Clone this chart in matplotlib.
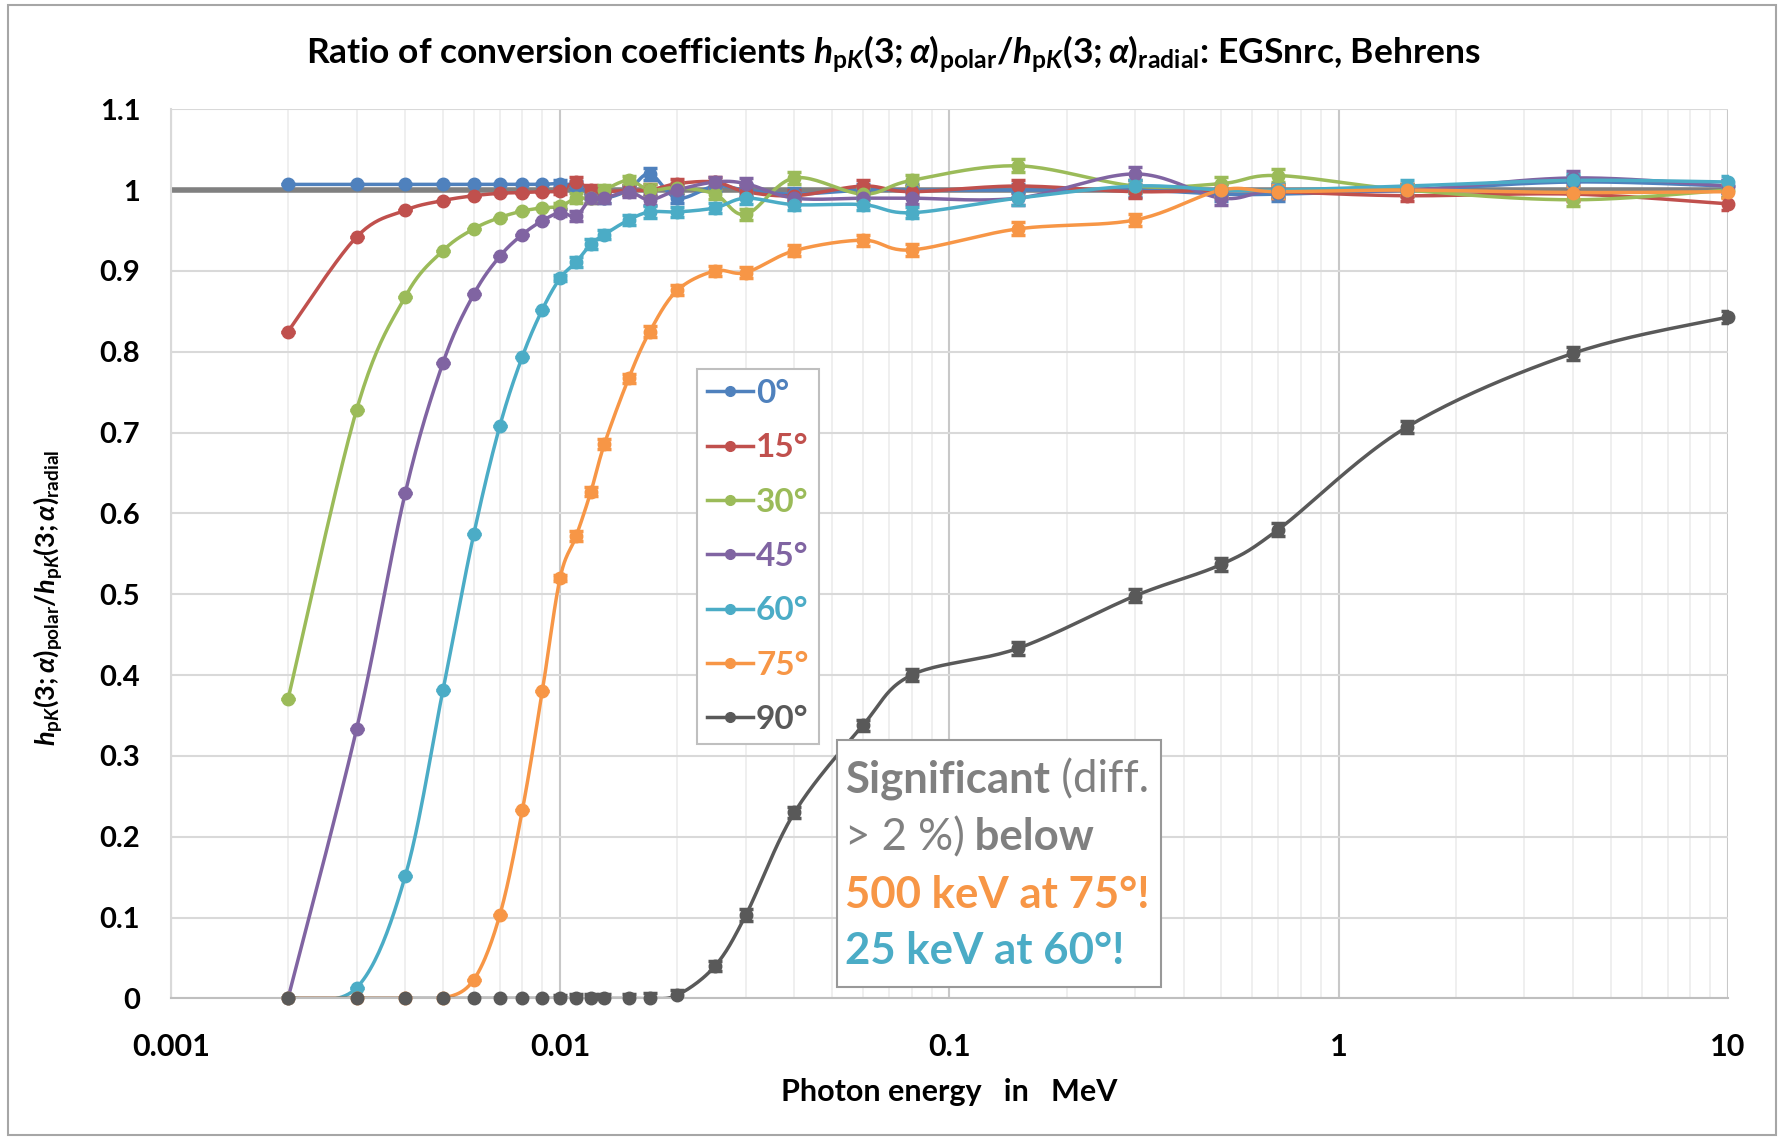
import numpy as np
import matplotlib
matplotlib.use("Agg")
import matplotlib.pyplot as plt
from matplotlib.lines import Line2D
from matplotlib.patches import Rectangle
from matplotlib.offsetbox import TextArea, HPacker, VPacker, AnchoredOffsetbox

# photon energies in MeV
energy = [0.002, 0.003, 0.004, 0.005, 0.006, 0.007, 0.008, 0.009, 0.010,
          0.011, 0.012, 0.013, 0.015, 0.017, 0.020, 0.025, 0.030, 0.040,
          0.060, 0.080, 0.15, 0.3, 0.5, 0.7, 1.5, 4, 10]

angles = ["0°", "15°", "30°", "45°", "60°", "75°", "90°"]

ratio_0 = [1.007, 1.007, 1.007, 1.007, 1.007, 1.007, 1.007, 1.007, 1.008,
           1.005, 0.995, 0.990, 1.000, 1.020, 0.990, 1.005, 1.000, 0.995,
           1.000, 1.000, 1.000, 1.000, 0.995, 0.995, 1.000, 1.010, 1.005]
ratio_15 = [0.825, 0.942, 0.975, 0.987, 0.993, 0.996, 0.997, 0.998, 0.999,
            1.010, 1.000, 0.998, 1.000, 1.000, 1.008, 1.010, 0.998, 0.993,
            1.005, 0.998, 1.005, 0.998, 1.000, 0.998, 0.993, 0.995, 0.983]
ratio_30 = [0.370, 0.728, 0.868, 0.925, 0.952, 0.966, 0.974, 0.978, 0.980,
            0.990, 0.990, 1.000, 1.012, 1.000, 1.003, 0.995, 0.970, 1.015,
            0.995, 1.012, 1.030, 1.005, 1.008, 1.018, 1.000, 0.988, 1.000]
ratio_45 = [0.000, 0.333, 0.625, 0.786, 0.871, 0.918, 0.945, 0.962, 0.972,
            0.968, 0.990, 0.990, 0.998, 0.988, 1.000, 1.010, 1.008, 0.990,
            0.990, 0.990, 0.990, 1.020, 0.990, 1.000, 1.000, 1.015, 1.005]
ratio_60 = [0.000, 0.013, 0.151, 0.381, 0.574, 0.708, 0.794, 0.852, 0.891,
            0.911, 0.933, 0.945, 0.963, 0.973, 0.973, 0.978, 0.990, 0.982,
            0.982, 0.972, 0.990, 1.005, 1.000, 1.000, 1.005, 1.012, 1.010]
ratio_75 = [0.000, 0.000, 0.000, 0.000, 0.023, 0.103, 0.233, 0.380, 0.520,
            0.572, 0.627, 0.686, 0.767, 0.825, 0.876, 0.900, 0.898, 0.925,
            0.938, 0.926, 0.952, 0.963, 1.000, 0.998, 1.000, 0.997, 0.998]
ratio_90 = [0.000, 0.000, 0.000, 0.000, 0.000, 0.000, 0.000, 0.000, 0.000,
            0.000, 0.000, 0.000, 0.000, 0.000, 0.004, 0.040, 0.103, 0.230,
            0.338, 0.400, 0.433, 0.498, 0.537, 0.580, 0.707, 0.798, 0.843]

# statistical uncertainty of the ratios
ratio_err = [0, 0, 0, 0, 0, 0, 0, 0, 0.004,
             0.006, 0.006, 0.006, 0.006, 0.007, 0.006, 0.006, 0.007, 0.007,
             0.007, 0.007, 0.008, 0.008, 0.008, 0.008, 0.007, 0.008, 0.008]

series = [ratio_0, ratio_15, ratio_30, ratio_45, ratio_60, ratio_75, ratio_90]
colors = ["#4F81BD", "#C0504D", "#9BBB59", "#8064A2", "#4BACC6", "#F79646", "#595959"]

plt.rcParams['font.family'] = ['Lato', 'DejaVu Sans']
plt.rcParams['font.weight'] = 'bold'
plt.rcParams['mathtext.fontset'] = 'custom'
plt.rcParams['mathtext.rm'] = 'Lato:bold'
plt.rcParams['mathtext.it'] = 'Lato:bold:italic'
plt.rcParams['mathtext.bf'] = 'Lato:bold'


def smooth(x, y, n=24):
    # Excel-like smoothed line (Catmull-Rom through the points)
    px = np.log10(x) * 389.0
    py = np.asarray(y, float) * 808.0
    pts = np.column_stack([px, py])
    P = np.vstack([pts[0], pts, pts[-1]])
    t = np.linspace(0, 1, n, endpoint=False)[:, None]
    out = []
    for i in range(len(pts) - 1):
        p0, p1, p2, p3 = P[i], P[i + 1], P[i + 2], P[i + 3]
        c1 = p1 + (p2 - p0) / 6
        c2 = p2 - (p3 - p1) / 6
        b = (1 - t) ** 3 * p1 + 3 * (1 - t) ** 2 * t * c1 + 3 * (1 - t) * t ** 2 * c2 + t ** 3 * p2
        out.append(b)
    out.append(pts[-1:])
    out = np.vstack(out)
    return 10 ** (out[:, 0] / 389.0), out[:, 1] / 808.0


fig = plt.figure(figsize=(17.85, 11.38), dpi=100)
ax = fig.add_axes([0.0957, 0.1227, 0.8723, 0.7813])

ax.set_xscale('log')
ax.set_xlim(0.001, 10)
ax.set_ylim(0, 1.1)

ax.grid(True, which='major', axis='y', color='#d9d9d9', linewidth=1.5)
ax.grid(True, which='major', axis='x', color='#c8c8c8', linewidth=1.5)
ax.grid(True, which='minor', axis='x', color='#ececec', linewidth=1.2)
ax.set_axisbelow(True)

# reference line at 1
ax.plot([0.001, 10], [1, 1], color='#808080', linewidth=4, zorder=1.5)

for vals, c in zip(series, colors):
    sx, sy = smooth(energy, vals)
    ax.plot(sx, sy, color=c, linewidth=2.5, zorder=2, clip_on=True)
    ax.errorbar(energy, vals, yerr=ratio_err, fmt='none', ecolor=c,
                elinewidth=2.5, capsize=5, capthick=2.5, zorder=2)
    ax.plot(energy, vals, linestyle='none', marker='o', markersize=9,
            color=c, zorder=3, clip_on=False)

ax.set_yticks(np.arange(0, 1.11, 0.1))
ax.set_yticklabels(["0", "0.1", "0.2", "0.3", "0.4", "0.5", "0.6", "0.7",
                    "0.8", "0.9", "1", "1.1"])
ax.set_xticks([0.001, 0.01, 0.1, 1, 10])
ax.set_xticklabels(["0.001", "0.01", "0.1", "1", "10"])
ax.tick_params(axis='both', which='both', length=0)
ax.tick_params(axis='x', pad=25, labelsize=22)
ax.tick_params(axis='y', pad=22, labelsize=21)

for s in ['top', 'right']:
    ax.spines[s].set_visible(False)
ax.spines['left'].set_color('#d9d9d9')
ax.spines['left'].set_linewidth(1.5)
ax.spines['bottom'].set_color('#bfbfbf')
ax.spines['bottom'].set_linewidth(1.5)

ax.set_xlabel("Photon energy   in   MeV", fontsize=22, fontweight='bold', labelpad=12)
ax.set_ylabel(r"$h_{\mathrm{p}K}(3;\alpha)_{\mathrm{polar}}/h_{\mathrm{p}K}(3;\alpha)_{\mathrm{radial}}$",
              fontsize=19.5)
ax.yaxis.set_label_coords(-0.068, 0.45)
ax.set_title(r"Ratio of conversion coefficients $h_{\mathrm{p}K}(3;\alpha)_{\mathrm{polar}}/h_{\mathrm{p}K}(3;\alpha)_{\mathrm{radial}}$: EGSnrc, Behrens",
             fontsize=25.5, fontweight='bold', pad=33, x=0.464)

handles = [Line2D([0], [0], color=c, linewidth=2.5, marker='o', markersize=7) for c in colors]
leg = ax.legend(handles, angles, loc='upper left', bbox_to_anchor=(0.338, 0.708),
                fontsize=24, handlelength=1.37, handletextpad=0.1, labelspacing=0.76,
                borderpad=0.3, fancybox=False, framealpha=1, edgecolor='#bfbfbf',
                borderaxespad=0)
leg.get_frame().set_linewidth(1.5)
for txt, c in zip(leg.get_texts(), colors):
    txt.set_color(c)

# annotation box: frame drawn on its own, text packed inside it
ax.add_patch(Rectangle((0.4276, 0.0128), 0.2084, 0.2779, transform=ax.transAxes,
                       facecolor='white', edgecolor='#999999', linewidth=1.5, zorder=4))
fs = 31.5
grey = '#808080'
line1 = HPacker(children=[TextArea("Significant", textprops=dict(color=grey, fontsize=fs, fontweight='bold')),
                          TextArea(" (diff.", textprops=dict(color=grey, fontsize=fs, fontweight='normal'))],
                pad=0, sep=0)
line2 = HPacker(children=[TextArea("> 2 %)", textprops=dict(color=grey, fontsize=fs, fontweight='normal')),
                          TextArea(" below", textprops=dict(color=grey, fontsize=fs, fontweight='bold'))],
                pad=0, sep=0)
line3 = TextArea("500 keV at 75°!", textprops=dict(color="#F79646", fontsize=fs, fontweight='bold'))
line4 = TextArea("25 keV at 60°!", textprops=dict(color="#4BACC6", fontsize=fs, fontweight='bold'))
box = VPacker(children=[line1, line2, line3, line4], align='left', pad=0, sep=11.9)
anchored = AnchoredOffsetbox(loc='upper left', child=box, pad=0, borderpad=0,
                             frameon=False, bbox_to_anchor=(0.4327, 0.2689),
                             bbox_transform=ax.transAxes)
anchored.set_zorder(5)
ax.add_artist(anchored)

# outer chart border
fig.patches.append(Rectangle((0.0045, 0.0026), 0.9905, 0.993, transform=fig.transFigure,
                             fill=False, edgecolor='#a6a6a6', linewidth=1.5))

fig.savefig("out.png", dpi=100)
